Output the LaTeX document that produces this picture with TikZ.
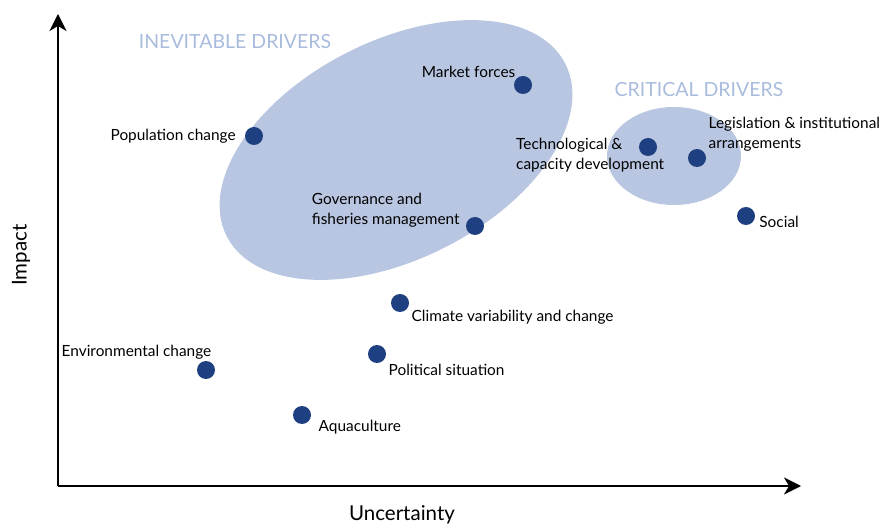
\documentclass[tikz,border=0pt]{standalone}
\usepackage{fontspec}
\setmainfont{Lato}
\usetikzlibrary{positioning,arrows.meta}
\definecolor{zone}{HTML}{B8C6E1}
\definecolor{zonetext}{HTML}{A9BCDD}
\definecolor{dot}{HTML}{1E3F80}
\tikzset{
	driver/.style={circle, fill=dot, minimum size=18pt, inner sep=0pt},
	lbl/.style={font=\fontsize{15.4}{20}\selectfont, inner sep=1pt, align=left},
	zonelbl/.style={font=\fontsize{19.5}{22}\selectfont, text=zonetext},
	axislbl/.style={font=\fontsize{20.5}{24}\selectfont},
	axis/.style={line width=2pt, -{Stealth[length=17pt, width=17pt, inset=5pt]}}
}
\begin{document}
\begin{tikzpicture}[x=1pt, y=-1pt]
	\useasboundingbox (0,0) rectangle (881,526);
	
	\fill[zone, rotate around={27:(396,150)}] (396,150) ellipse [x radius=190, y radius=109];
	\fill[zone] (674,156) ellipse [x radius=67, y radius=49];
	
	\node[zonelbl] (inevitable) at (235,42) {INEVITABLE DRIVERS};
	\node[zonelbl] (critical) at (699,90) {CRITICAL DRIVERS};
	
	\coordinate (o) at (58,486);
	\coordinate (ytip) at (58,14);
	\coordinate (xtip) at (801,486);
	\draw[axis] (o) -- (ytip);
	\draw[axis] (o) -- (xtip);
	\node[axislbl, rotate=90] (impact) at (21,255) {Impact};
	\node[axislbl] (uncertainty) at (402,515) {Uncertainty};
	
	\node[driver] (market) at (523,85) {};
	\node[driver] (population) at (254,136) {};
	\node[driver] (governance) at (475,226) {};
	\node[driver] (technology) at (648,147) {};
	\node[driver] (legislation) at (697,158) {};
	\node[driver] (social) at (746,216) {};
	\node[driver] (climate) at (400,303) {};
	\node[driver] (political) at (377,354) {};
	\node[driver] (environment) at (206,370) {};
	\node[driver] (aquaculture) at (302,415) {};
	
	\node[lbl, anchor=south east] (marketlbl) at (market.north west) {Market forces};
	\node[lbl, left=8pt of population] (populationlbl) {Population change};
	\node[lbl, left=5pt of governance, yshift=16pt] (governancelbl) {Governance and\\fisheries management};
	\node[lbl, anchor=west] (technologylbl) at (515,155) {Technological \&\\capacity development};
	\node[lbl, above right=-1pt and 4pt of legislation] (legislationlbl) {Legislation \& institutional\\arrangements};
	\node[lbl, right=3pt of social, yshift=-6pt] (sociallbl) {Social};
	\node[lbl, below right=-1pt and 4pt of climate] (climatelbl) {Climate variability and change};
	\node[lbl, below right=2pt and 4pt of political] (politicallbl) {Political situation};
	\node[lbl, anchor=south east, yshift=3pt] (environmentlbl) at (environment.north east) {Environmental change};
	\node[lbl, below right=-3pt and 9pt of aquaculture] (aquaculturelbl) {Aquaculture};
	
\end{tikzpicture}
\end{document}
